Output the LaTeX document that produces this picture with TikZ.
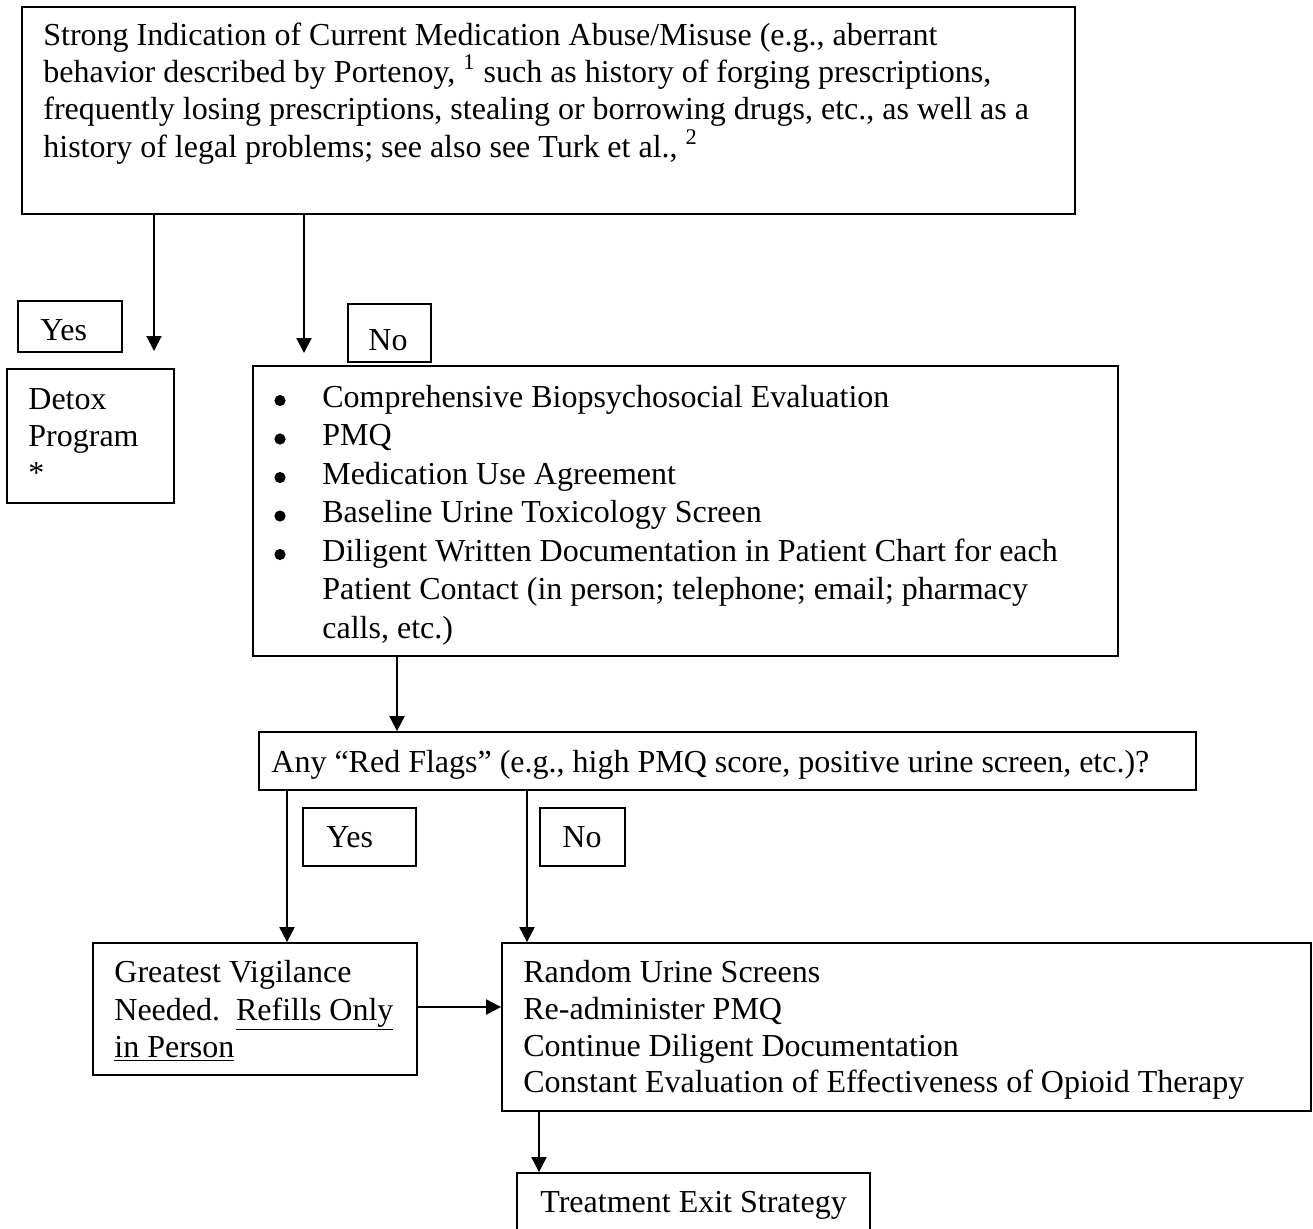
\documentclass[tikz,border=0pt]{standalone}
\usepackage{fontspec}
\setmainfont{Liberation Serif}
\usetikzlibrary{arrows.meta,fit}
\begin{document}
\begin{tikzpicture}[x=0.5pt,y=-0.5pt,
 box/.style={draw, line width=0.9pt, inner sep=0pt},
 txt/.style={anchor=base west, inner sep=0pt, font=\fontsize{16}{19}\selectfont},
 bul/.style={circle, fill, inner sep=0pt, minimum size=5.6pt},
 arr/.style={line width=1pt, -{Triangle[width=7.5pt,length=7.5pt]}}]
\useasboundingbox (0,0) rectangle (1313,1228);
\clip (0,0) rectangle (1313,1228);
\fill[white] (0,0) rectangle (1313,1228);
% boxes
\node[box, fit={(22,7)(1075,214)}] (top) {};
\node[box, fit={(18,301)(122,352)}] (yes1) {};
\node[box, fit={(348,304)(431,362)}] (no1) {};
\node[box, fit={(7,369)(174,503)}] (detox) {};
\node[box, fit={(253,366)(1118,656)}] (main) {};
\node[box, fit={(259,732)(1196,790)}] (red) {};
\node[box, fit={(303,808)(416,866)}] (yes2) {};
\node[box, fit={(540,808)(625,866)}] (no2) {};
\node[box, fit={(93,943)(417,1075)}] (great) {};
\node[box, fit={(502,943)(1311,1111)}] (rand) {};
\node[box, fit={(517,1173)(870,1250)}] (exit) {};
% texts
\node[txt] (t1) at (43,45) {Strong Indication of Current Medication Abuse/Misuse (e.g., aberrant};
\node[txt] (t2) at (43,82) {behavior described by Portenoy, \textsuperscript{1} such as history of forging prescriptions,};
\node[txt] (t3) at (43,119) {frequently losing prescriptions, stealing or borrowing drugs, etc., as well as a};
\node[txt] (t4) at (43,157) {history of legal problems; see also see Turk et al., \textsuperscript{2}};
\node[txt] (ty1) at (40,340) {Yes};
\node[txt] (tn1) at (368,350) {No};
\node[txt] (d1) at (28,409) {Detox};
\node[txt] (d2) at (28,446) {Program};
\node[txt] (d3) at (28,483) {*};
\node[bul] (b1) at (280,400.5) {};
\node[bul] (b2) at (280,439) {};
\node[bul] (b3) at (280,477.5) {};
\node[bul] (b4) at (280,516) {};
\node[bul] (b5) at (280,554.5) {};
\node[txt] (m1) at (322,407) {Comprehensive Biopsychosocial Evaluation};
\node[txt] (m2) at (322,445.5) {PMQ};
\node[txt] (m3) at (322,484) {Medication Use Agreement};
\node[txt] (m4) at (322,522.5) {Baseline Urine Toxicology Screen};
\node[txt] (m5) at (322,561) {Diligent Written Documentation in Patient Chart for each};
\node[txt] (m6) at (322,599.5) {Patient Contact (in person; telephone; email; pharmacy};
\node[txt] (m7) at (322,638) {calls, etc.)};
\node[txt] (tr) at (271,772) {Any “Red Flags” (e.g., high PMQ score, positive urine screen, etc.)?};
\node[txt] (ty2) at (326,847) {Yes};
\node[txt] (tn2) at (562,847) {No};
\node[txt] (g1) at (114,982) {Greatest Vigilance};
\node[txt] (g2) at (114,1020) {Needed.\hspace{0.5em}\underline{Refills Only}};
\node[txt] (g3) at (114,1057) {\underline{in Person}};
\node[txt] (r1) at (523,982) {Random Urine Screens};
\node[txt] (r2) at (523,1019) {Re-administer PMQ};
\node[txt] (r3) at (523,1056) {Continue Diligent Documentation};
\node[txt] (r4) at (523,1092) {Constant Evaluation of Effectiveness of Opioid Therapy};
\node[txt] (te) at (540,1212) {Treatment Exit Strategy};
% connectors
\coordinate (a1) at (154,351);
\coordinate (a2) at (304,353);
\coordinate (x3) at (397,0);
\coordinate (x4) at (287,0);
\coordinate (x5) at (527,0);
\coordinate (y6) at (0,1007);
\coordinate (x7) at (539,0);
\draw[arr] (top.south -| a1) -- (a1);
\draw[arr] (top.south -| a2) -- (a2);
\draw[arr] (main.south -| x3) -- (red.north -| x3);
\draw[arr] (red.south -| x4) -- (great.north -| x4);
\draw[arr] (red.south -| x5) -- (rand.north -| x5);
\draw[arr] (great.east |- y6) -- (rand.west |- y6);
\draw[arr] (rand.south -| x7) -- (exit.north -| x7);
\end{tikzpicture}
\end{document}
